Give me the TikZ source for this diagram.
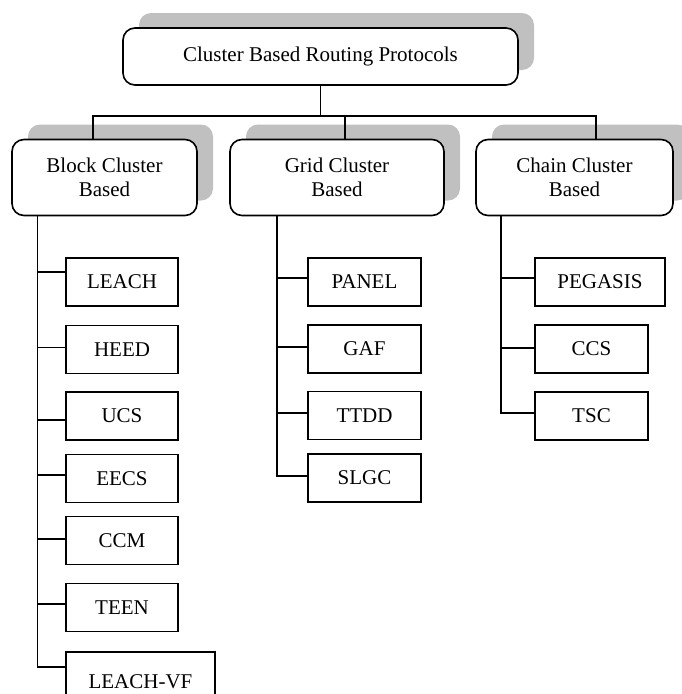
\documentclass[tikz,border=0pt]{standalone}
\usepackage{fontspec}
\setmainfont{Liberation Serif}
\usetikzlibrary{shadows}
\definecolor{shade}{RGB}{192,192,192}
\begin{document}
\begin{tikzpicture}[x=1pt,y=-1pt,
  font=\fontsize{21}{24}\selectfont,
  group/.style={draw, line width=1.6pt, rounded corners=12pt, fill=white,
    align=center, inner sep=0pt,
    general shadow={fill=shade, shadow xshift=16pt, shadow yshift=15pt}},
  leaf/.style={draw, line width=1.6pt, fill=white, inner sep=0pt,
    minimum width=113pt, minimum height=48pt},
  link/.style={line width=1.4pt}]
\useasboundingbox (0,0) rectangle (681,694);

% root and the three families
\node[group, minimum width=395pt, minimum height=57pt] (top) at (320.5,56.5)
  {Cluster Based Routing Protocols};
\node[group, minimum width=185pt, minimum height=76pt] (block) at (104.5,177.5)
  {Block Cluster\\Based};
\node[group, minimum width=214pt, minimum height=76pt] (grid) at (337,177.5)
  {Grid Cluster\\Based};
\node[group, minimum width=197pt, minimum height=76pt] (chain) at (574.5,177.5)
  {Chain Cluster\\Based};

% bus joining the root to the families
\coordinate (busL) at (93,116);
\coordinate (busM) at (345,116);
\coordinate (busR) at (596,116);
\draw[link] (top.south) -- (top.south |- busL);
\draw[link] (busL |- block.north) -- (busL) -- (busR) -- (busR |- chain.north);
\draw[link] (busM) -- (busM |- grid.north);

% block cluster protocols
\node[leaf, minimum width=112pt] (leach) at (122,282)   {LEACH};
\node[leaf, minimum width=112pt] (heed)  at (122,349.5) {HEED};
\node[leaf, minimum width=112pt] (ucs)   at (122,416)   {UCS};
\node[leaf, minimum width=112pt] (eecs)  at (122,478.5) {EECS};
\node[leaf, minimum width=112pt] (ccm)   at (122,540.5) {CCM};
\node[leaf, minimum width=112pt] (teen)  at (122,607.5) {TEEN};
\node[leaf, minimum width=149pt, minimum height=60pt] (vf) at (140.5,682) {LEACH-VF};

\coordinate (c-leach) at ([yshift=10pt]leach.west);
\coordinate (c-heed)  at ([yshift=2pt]heed.west);
\coordinate (c-ucs)   at ([yshift=-4pt]ucs.west);
\coordinate (c-eecs)  at ([yshift=3.5pt]eecs.west);
\coordinate (c-ccm)   at ([yshift=1.5pt]ccm.west);
\coordinate (c-teen)  at ([yshift=3.5pt]teen.west);
\coordinate (c-vf)    at ([yshift=15pt]vf.west);
\coordinate (bspine) at (37.5,0);
\draw[link] (bspine |- block.south) |- (c-vf);
\foreach \n in {leach,heed,ucs,eecs,ccm,teen}
  \draw[link] (bspine |- c-\n) -- (c-\n);

% grid cluster protocols
\node[leaf] (panel) at (364.5,282)   {PANEL};
\node[leaf] (gaf)   at (364.5,349)   {GAF};
\node[leaf] (ttdd)  at (364.5,415.5) {TTDD};
\node[leaf] (slgc)  at (364.5,478)   {SLGC};

\coordinate (c-panel) at ([yshift=4pt]panel.west);
\coordinate (c-gaf)   at ([yshift=2pt]gaf.west);
\coordinate (c-ttdd)  at ([yshift=2.5pt]ttdd.west);
\coordinate (c-slgc)  at ([yshift=2pt]slgc.west);
\coordinate (gspine) at (277,0);
\draw[link] (gspine |- grid.south) |- (c-slgc);
\foreach \n in {panel,gaf,ttdd}
  \draw[link] (gspine |- c-\n) -- (c-\n);

% chain cluster protocols
\node[leaf, minimum width=130pt] (pegasis) at (600,282) {PEGASIS};
\node[leaf] (ccs) at (591.5,349) {CCS};
\node[leaf] (tsc) at (591.5,416) {TSC};

\coordinate (c-pegasis) at ([yshift=4pt]pegasis.west);
\coordinate (c-ccs)     at ([yshift=1pt]ccs.west);
\coordinate (c-tsc)     at ([yshift=3pt]tsc.west);
\coordinate (cspine) at (501,0);
\draw[link] (cspine |- chain.south) |- (c-tsc);
\foreach \n in {pegasis,ccs}
  \draw[link] (cspine |- c-\n) -- (c-\n);
\end{tikzpicture}
\end{document}
